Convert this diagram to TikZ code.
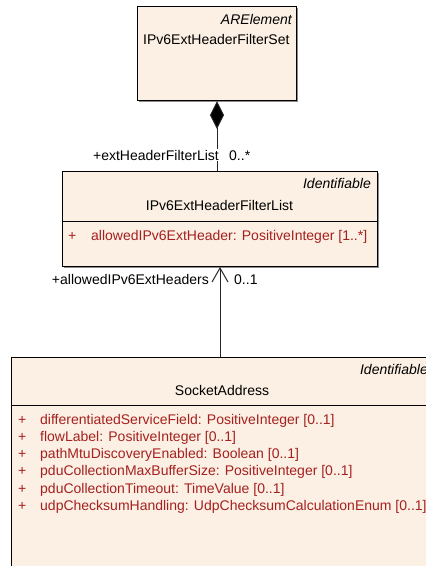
\documentclass[tikz,border=0pt]{standalone}
\usepackage{fontspec}
\setmainfont{Liberation Sans}
\usetikzlibrary{arrows.meta,shadows}
\definecolor{boxfill}{RGB}{251,240,227}
\definecolor{attr}{RGB}{165,32,32}
\begin{document}
\begin{tikzpicture}[x=1pt,y=-1pt,
  font=\fontsize{14}{16}\selectfont,
  umlbox/.style={draw=black, line width=1pt, fill=boxfill, anchor=north west, inner sep=0pt,
    drop shadow={shadow xshift=1.5pt, shadow yshift=-1.5pt, fill=black!45, opacity=1}},
  stereo/.style={anchor=base east, inner sep=0pt, font=\fontsize{14}{16}\selectfont\itshape},
  cname/.style={anchor=base, inner sep=0pt},
  plus/.style={anchor=base west, inner sep=0pt, text=attr},
  attrtext/.style={anchor=base west, inner sep=0pt, text=attr},
  rolelabel/.style={inner sep=1pt, fill=white},
  conn/.style={line width=1pt, draw=black!85}
]
\useasboundingbox (0,0) rectangle (426,566);
\clip (0,0) rectangle (426,566);
\fill[white] (0,0) rectangle (426,566);

% Box 1
\node[umlbox, minimum width=159pt, minimum height=94pt] (set) at (137,6) {};
\node[stereo] (setst) at (292,24) {ARElement};
\node[anchor=base west, inner sep=0pt] (setname) at (143,44) {IPv6ExtHeaderFilterSet};

% Box 2
\node[umlbox, minimum width=315pt, minimum height=95pt] (list) at (62,171) {};
\node[stereo] (listst) at (371,188) {Identifiable};
\node[cname] (listname) at (219.5,210) {IPv6ExtHeaderFilterList};
\draw[line width=1pt] (list.west |- 0,221) coordinate (lsepl) -- (list.east |- 0,221) coordinate (lsepr);
\node[plus] (lp1) at (68,240) {+};
\node[attrtext] (la1) at (91,240) {allowedIPv6ExtHeader: PositiveInteger [1..*]};

% Box 3
\node[umlbox, minimum width=422pt, minimum height=300pt] (sock) at (11,357) {};
\node[stereo] (sockst) at (428,374) {Identifiable};
\node[cname] (sockname) at (222,395) {SocketAddress};
\draw[line width=1pt] (sock.west |- 0,405) coordinate (ssepl) -- (sock.east |- 0,405) coordinate (ssepr);
\foreach \t [count=\i from 0] in {
  {differentiatedServiceField: PositiveInteger [0..1]},
  {flowLabel: PositiveInteger [0..1]},
  {pathMtuDiscoveryEnabled: Boolean [0..1]},
  {pduCollectionMaxBufferSize: PositiveInteger [0..1]},
  {pduCollectionTimeout: TimeValue [0..1]},
  {udpChecksumHandling: UdpChecksumCalculationEnum [0..1]}} {
  \node[plus] (sp\i) at (18,424+17.3*\i) {+};
  \node[attrtext] (sa\i) at (40,424+17.3*\i) {\t};
}

% Composition
\draw[conn, {Diamond[length=28pt,width=14pt,fill=black]}-] (set.south) -- (set.south |- list.north);
\node[rolelabel, anchor=base east] (role1) at (220,160) {+extHeaderFilterList};
\node[anchor=base west, inner sep=0pt] (mult1) at (229,160) {0..*};

% Association
\draw[conn, -{Straight Barb[length=14pt,width=16pt,line width=1pt]}] (sock.north -| list.south) -- (list.south);
\node[anchor=base east, inner sep=0pt] (role2) at (209,284) {+allowedIPv6ExtHeaders};
\node[anchor=base west, inner sep=0pt] (mult2) at (234,284) {0..1};
\end{tikzpicture}
\end{document}
